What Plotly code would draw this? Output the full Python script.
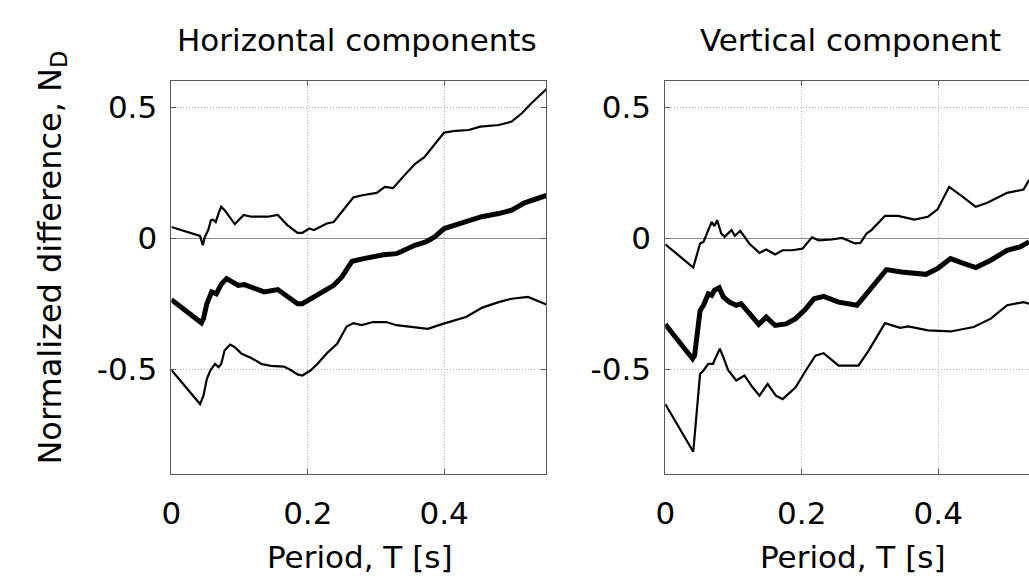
import plotly.graph_objects as go

# ---------------- data ----------------
# Horizontal components (left panel)
h_up_x = [0, 0.042, 0.046, 0.049, 0.054, 0.058, 0.061, 0.065, 0.069, 0.073, 0.078, 0.093, 0.106, 0.117,
          0.141, 0.156, 0.170, 0.185, 0.192, 0.202, 0.209, 0.228, 0.238, 0.252, 0.267, 0.282, 0.301,
          0.313, 0.325, 0.340, 0.357, 0.371, 0.386, 0.400, 0.417, 0.436, 0.453, 0.480, 0.499, 0.514,
          0.528, 0.550]
h_up_y = [0.043, 0.009, -0.027, 0.005, 0.031, 0.069, 0.071, 0.062, 0.094, 0.120, 0.107, 0.054, 0.089,
          0.082, 0.082, 0.089, 0.050, 0.020, 0.020, 0.037, 0.031, 0.056, 0.062, 0.107, 0.156, 0.165,
          0.173, 0.196, 0.191, 0.235, 0.283, 0.309, 0.356, 0.403, 0.410, 0.413, 0.426, 0.432, 0.445,
          0.477, 0.515, 0.569]

h_mid_x = [0, 0.044, 0.047, 0.052, 0.059, 0.066, 0.071, 0.074, 0.081, 0.088, 0.098, 0.107, 0.122, 0.136,
           0.156, 0.170, 0.185, 0.192, 0.204, 0.223, 0.238, 0.250, 0.265, 0.282, 0.311, 0.330, 0.357,
           0.373, 0.386, 0.400, 0.426, 0.455, 0.480, 0.499, 0.518, 0.550]
h_mid_y = [-0.235, -0.323, -0.307, -0.250, -0.205, -0.212, -0.186, -0.173, -0.154, -0.167, -0.180,
           -0.177, -0.193, -0.205, -0.196, -0.224, -0.250, -0.250, -0.231, -0.205, -0.180, -0.148,
           -0.088, -0.078, -0.063, -0.059, -0.027, -0.014, 0.005, 0.037, 0.056, 0.082, 0.094, 0.107,
           0.135, 0.163]

h_lo_x = [0, 0.042, 0.047, 0.052, 0.057, 0.064, 0.069, 0.073, 0.078, 0.086, 0.093, 0.103, 0.117, 0.132,
          0.146, 0.165, 0.175, 0.185, 0.192, 0.204, 0.214, 0.228, 0.243, 0.257, 0.267, 0.279, 0.296,
          0.315, 0.330, 0.354, 0.376, 0.398, 0.432, 0.456, 0.480, 0.499, 0.523, 0.550]
h_lo_y = [-0.503, -0.633, -0.601, -0.537, -0.505, -0.480, -0.492, -0.480, -0.429, -0.406, -0.416,
          -0.441, -0.457, -0.480, -0.487, -0.490, -0.503, -0.520, -0.524, -0.505, -0.480, -0.439,
          -0.403, -0.337, -0.324, -0.332, -0.320, -0.320, -0.332, -0.339, -0.346, -0.327, -0.301,
          -0.265, -0.244, -0.231, -0.224, -0.253]

# Vertical component (right panel)
v_up_x = [0, 0.041, 0.051, 0.056, 0.063, 0.068, 0.072, 0.076, 0.082, 0.087, 0.097, 0.102, 0.110, 0.123,
          0.138, 0.148, 0.161, 0.172, 0.186, 0.201, 0.215, 0.225, 0.244, 0.259, 0.278, 0.286, 0.295,
          0.302, 0.322, 0.341, 0.365, 0.385, 0.399, 0.416, 0.436, 0.455, 0.472, 0.501, 0.525, 0.533]
v_up_y = [-0.023, -0.112, -0.020, -0.014, 0.031, 0.062, 0.046, 0.069, 0.018, 0.005, 0.031, 0.009,
          0.028, -0.020, -0.056, -0.043, -0.062, -0.046, -0.046, -0.040, 0.003, -0.008, -0.005, 0.001,
          -0.020, -0.018, 0.018, 0.031, 0.085, 0.085, 0.071, 0.082, 0.110, 0.196, 0.158, 0.120, 0.135,
          0.173, 0.186, 0.222]

v_mid_x = [0, 0.040, 0.043, 0.051, 0.056, 0.063, 0.068, 0.072, 0.079, 0.085, 0.094, 0.104, 0.111, 0.123,
           0.137, 0.148, 0.161, 0.177, 0.191, 0.206, 0.218, 0.232, 0.254, 0.281, 0.293, 0.310, 0.324,
           0.346, 0.382, 0.399, 0.418, 0.435, 0.455, 0.477, 0.501, 0.520, 0.533]
v_mid_y = [-0.329, -0.460, -0.447, -0.276, -0.256, -0.212, -0.218, -0.199, -0.189, -0.224, -0.244,
           -0.256, -0.250, -0.288, -0.329, -0.301, -0.333, -0.327, -0.307, -0.269, -0.231, -0.222,
           -0.244, -0.256, -0.218, -0.167, -0.120, -0.129, -0.138, -0.116, -0.078, -0.094, -0.112,
           -0.084, -0.046, -0.033, -0.014]

v_lo_x = [0, 0.041, 0.051, 0.056, 0.063, 0.070, 0.072, 0.080, 0.085, 0.092, 0.104, 0.116, 0.128, 0.138,
          0.150, 0.162, 0.172, 0.191, 0.206, 0.220, 0.232, 0.254, 0.283, 0.298, 0.322, 0.344, 0.356,
          0.385, 0.418, 0.452, 0.477, 0.501, 0.525, 0.533]
v_lo_y = [-0.633, -0.815, -0.518, -0.505, -0.480, -0.480, -0.467, -0.422, -0.454, -0.503, -0.543,
          -0.524, -0.569, -0.601, -0.556, -0.601, -0.614, -0.569, -0.505, -0.448, -0.439, -0.486,
          -0.486, -0.429, -0.324, -0.342, -0.337, -0.352, -0.356, -0.339, -0.307, -0.256, -0.244, -0.250]

x_ticks = [0, 0.2, 0.4]
x_tick_labels = ["0", "0.2", "0.4"]
y_ticks = [-0.5, 0, 0.5]
y_tick_labels = ["-0.5", "0", "0.5"]
titles = ["Horizontal components", "Vertical component"]
x_label = "Period, T [s]"
y_label = "Normalized difference, N<sub>D</sub>"

# ---------------- figure ----------------
W, H = 1029, 584
FONT = "DejaVu Sans"
FS = 31
AX = "#5a5a5a"

fig = go.Figure()

def add(x, y, w, xa, ya):
    fig.add_trace(go.Scatter(x=x, y=y, mode="lines", line=dict(color="black", width=w),
                             xaxis=xa, yaxis=ya, showlegend=False, hoverinfo="skip"))

add(h_up_x, h_up_y, 2.2, "x", "y")
add(h_lo_x, h_lo_y, 2.2, "x", "y")
add(h_mid_x, h_mid_y, 5, "x", "y")
add(v_up_x, v_up_y, 2.2, "x2", "y2")
add(v_lo_x, v_lo_y, 2.2, "x2", "y2")
add(v_mid_x, v_mid_y, 5, "x2", "y2")

def px_x(p):
    return p / W

def px_y(p):
    return 1 - p / H

common_x = dict(tickvals=x_ticks, ticktext=x_tick_labels, ticks="inside", ticklen=5, tickcolor=AX,
                showline=True, linecolor=AX, linewidth=1, showgrid=True, gridcolor="#b4b4b4",
                griddash="1px,2px", gridwidth=1, zeroline=False,
                tickfont=dict(family=FONT, size=FS, color="black"), ticklabelstandoff=12)
common_y = dict(tickvals=y_ticks, ticktext=y_tick_labels, ticks="inside", ticklen=5, tickcolor=AX,
                showline=True, linecolor=AX, linewidth=1, showgrid=True, gridcolor="#b4b4b4",
                griddash="1px,2px", gridwidth=1, zeroline=True, zerolinecolor="#8c8c8c",
                zerolinewidth=1, range=[-0.9, 0.6],
                tickfont=dict(family=FONT, size=FS, color="black"), ticklabelstandoff=7)

fig.update_layout(
    width=W, height=H, margin=dict(l=0, r=0, t=0, b=0),
    paper_bgcolor="white", plot_bgcolor="white",
    xaxis=dict(domain=[px_x(163), px_x(541.7)], range=[0, 0.55], anchor="y", mirror="ticks", **common_x),
    yaxis=dict(domain=[px_y(474), px_y(81)], anchor="x", mirror="ticks", **common_y),
    xaxis2=dict(domain=[px_x(661.7), 1.0], range=[0, 0.533], anchor="y2", mirror="ticks", **common_x),
    yaxis2=dict(domain=[px_y(474), px_y(81)], anchor="x2", mirror=False, **common_y),
)

ann = []
ann.append(dict(text=titles[0], x=px_x(350), y=px_y(40), xref="paper", yref="paper",
                showarrow=False, font=dict(family=FONT, size=FS, color="black"),
                xanchor="center", yanchor="middle"))
ann.append(dict(text=titles[1], x=px_x(849), y=px_y(40), xref="paper", yref="paper",
                showarrow=False, font=dict(family=FONT, size=FS, color="black"),
                xanchor="center", yanchor="middle"))
for cx in (353, 851):
    ann.append(dict(text=x_label, x=px_x(cx), y=px_y(557), xref="paper", yref="paper",
                    showarrow=False, font=dict(family=FONT, size=FS, color="black"),
                    xanchor="center", yanchor="middle"))
ann.append(dict(text=y_label, x=px_x(42), y=px_y(258), xref="paper", yref="paper",
                showarrow=False, textangle=-90, font=dict(family=FONT, size=FS + 1, color="black"),
                xanchor="center", yanchor="middle"))
fig.update_layout(annotations=ann)

fig.write_html("out.html")
